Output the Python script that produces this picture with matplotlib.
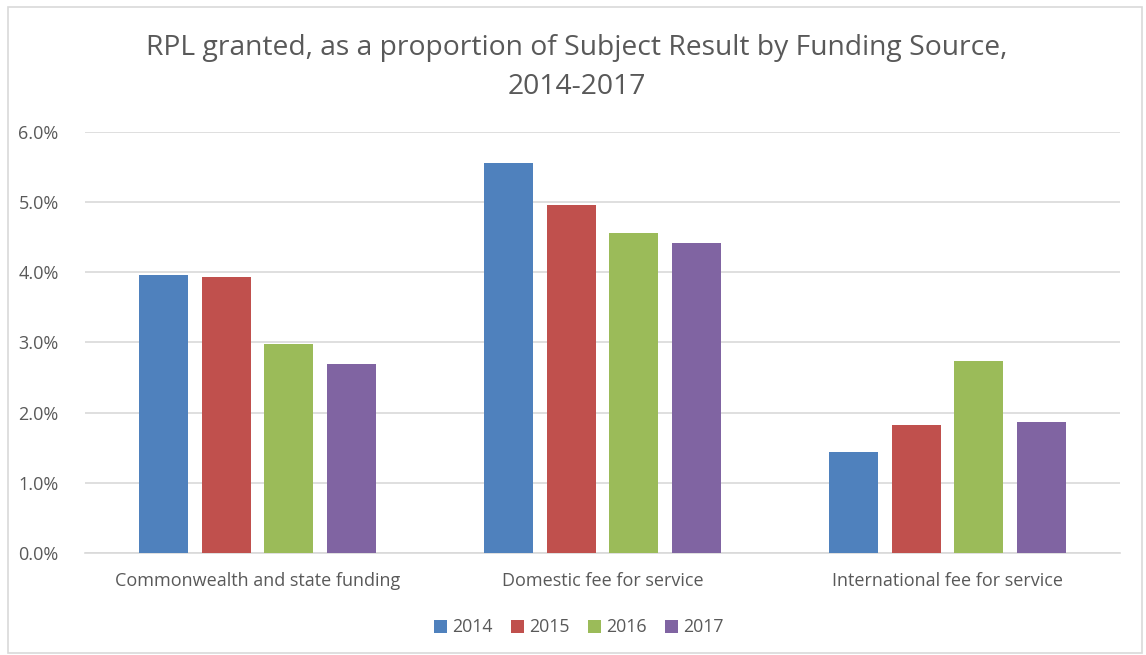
import numpy as np
import matplotlib.pyplot as plt
from matplotlib.patches import Rectangle
from matplotlib.ticker import FuncFormatter

# Data
categories = ['Commonwealth and state funding', 'Domestic fee for service', 'International fee for service']
years = ['2014', '2015', '2016', '2017']
rpl_2014 = [0.0396, 0.0556, 0.0144]
rpl_2015 = [0.0393, 0.0496, 0.0182]
rpl_2016 = [0.0298, 0.0456, 0.0273]
rpl_2017 = [0.0269, 0.0442, 0.0187]
colors = ['#4F81BD', '#C0504D', '#9BBB59', '#8064A2']

plt.rcParams['font.family'] = ['Open Sans', 'DejaVu Sans']
text_color = '#595959'

fig = plt.figure(figsize=(11.46, 6.55), dpi=100)
ax = fig.add_axes([0.0742, 0.1557, 0.9031, 0.6428])

x = np.arange(len(categories))
width = 0.142
step = 0.182
for i, (vals, yr) in enumerate(zip([rpl_2014, rpl_2015, rpl_2016, rpl_2017], years)):
    ax.bar(x + (i - 1.5) * step, vals, width, color=colors[i], label=yr, zorder=3)

ax.set_xlim(-0.5, 2.5)
ax.set_ylim(0, 0.06)
ax.set_yticks(np.arange(0, 0.061, 0.01))
ax.yaxis.set_major_formatter(FuncFormatter(lambda v, p: f'{v*100:.1f}%'))
ax.set_xticks(x)
ax.set_xticklabels(categories)
ax.tick_params(axis='y', length=0, labelsize=13, colors=text_color, pad=19)
ax.tick_params(axis='x', length=0, labelsize=13, colors=text_color, pad=14)
ax.grid(axis='y', color='#D9D9D9', linewidth=1.2, zorder=0)
for s in ['top', 'right', 'left']:
    ax.spines[s].set_visible(False)
ax.spines['bottom'].set_color('#D9D9D9')
ax.spines['bottom'].set_linewidth(1.2)

fig.text(0.503, 0.897, 'RPL granted, as a proportion of Subject Result by Funding Source,\n2014-2017',
         ha='center', va='center', fontsize=20.3, color=text_color, linespacing=1.55)

leg = ax.legend(loc='center', bbox_to_anchor=(0.505, 0.042), bbox_transform=fig.transFigure,
                ncol=4, frameon=False, fontsize=12.8, handlelength=0.75, handleheight=0.75,
                handletextpad=0.3, columnspacing=1.0)
for t in leg.get_texts():
    t.set_color(text_color)

fig.patches.append(Rectangle((8 / 1146, 2 / 655), 1134 / 1146, 646 / 655, transform=fig.transFigure,
                             fill=False, edgecolor='#D9D9D9', linewidth=1.2))

plt.savefig('out.png', dpi=100)
